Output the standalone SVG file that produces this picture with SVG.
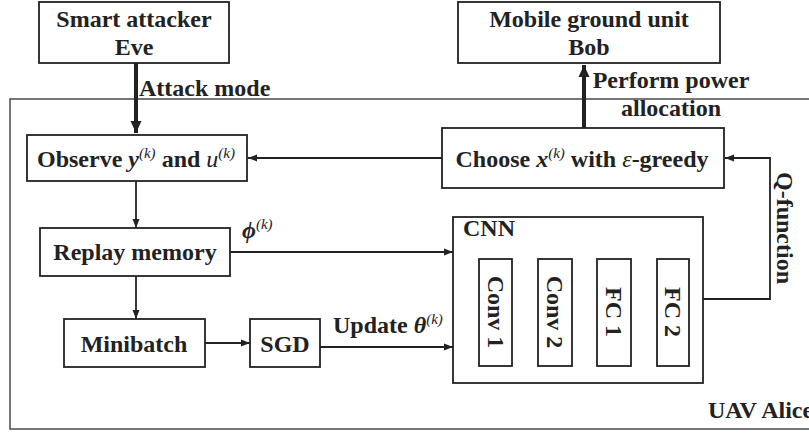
<svg xmlns="http://www.w3.org/2000/svg" width="809" height="433" viewBox="0 0 809 433">
  <style>
    .box { fill: #fff; stroke: #222; stroke-width: 1.8; }
    .frame { fill: none; stroke: #555; stroke-width: 1.6; }
    .t { font-family: "Liberation Serif", "Times New Roman", serif; font-weight: bold; font-size: 24px; fill: #222; }
    .mid { text-anchor: middle; }
    .it { font-style: italic; }
    .rg { font-weight: normal; }
    .sup { font-style: italic; font-weight: normal; font-size: 15px; }
    .ln { fill: none; stroke: #222; stroke-width: 1.8; }
    .thick { fill: none; stroke: #222; stroke-width: 4; }
  </style>
  <defs>
    <marker id="ah" markerUnits="userSpaceOnUse" markerWidth="10" markerHeight="10" refX="9" refY="5" orient="auto">
      <path d="M0,1.5 L9,5 L0,8.5 Z" fill="#222"/>
    </marker>
    <marker id="ahThick" markerUnits="userSpaceOnUse" markerWidth="14" markerHeight="14" refX="12" refY="7" orient="auto">
      <path d="M0,1.5 L12,7 L0,12.5 Z" fill="#222"/>
    </marker>
  </defs>

  <!-- UAV Alice frame -->
  <g id="uav-alice">
    <rect class="frame" x="10" y="99" width="806" height="330"/>
    <text class="t" x="708" y="418">UAV Alice</text>
  </g>

  <!-- connectors -->
  <g id="connectors">
    <path class="thick" d="M136 63 V133" marker-end="url(#ahThick)"/>
    <path class="thick" d="M584 128 V65" marker-end="url(#ahThick)"/>
    <path class="ln" d="M442 158 H248" marker-end="url(#ah)"/>
    <path class="ln" d="M136 181 V228" marker-end="url(#ah)"/>
    <path class="ln" d="M136 276 V319" marker-end="url(#ah)"/>
    <path class="ln" d="M205 343 H250" marker-end="url(#ah)"/>
    <path class="ln" d="M320 347 H453" marker-end="url(#ah)"/>
    <path class="ln" d="M230 252 H453" marker-end="url(#ah)"/>
    <path class="ln" d="M703 299 H770 V158 H725" marker-end="url(#ah)"/>
    <path class="ln" d="M512 312 H538" marker-end="url(#ah)"/>
    <path class="ln" d="M572 312 H597" marker-end="url(#ah)"/>
    <path class="ln" d="M631 312 H657" marker-end="url(#ah)"/>

    <text class="t" x="139" y="96">Attack mode</text>
    <text class="t mid" x="671" y="88">Perform power</text>
    <text class="t mid" x="671" y="116">allocation</text>
    <text class="t" x="242" y="238"><tspan class="it">ϕ</tspan><tspan class="sup" dy="-9">(k)</tspan></text>
    <text class="t" x="333" y="333">Update <tspan class="it">θ</tspan><tspan class="sup" dy="-9">(k)</tspan></text>
    <text class="t mid" transform="translate(777 228) rotate(90)" x="0" y="0">Q-function</text>
  </g>

  <g id="eve">
    <rect class="box" x="39" y="2" width="190" height="61"/>
    <text class="t mid" x="134" y="27">Smart attacker</text>
    <text class="t mid" x="134" y="55">Eve</text>
  </g>

  <g id="bob">
    <rect class="box" x="458" y="2" width="262" height="61"/>
    <text class="t mid" x="589" y="27">Mobile ground unit</text>
    <text class="t mid" x="589" y="55">Bob</text>
  </g>

  <g id="observe">
    <rect class="box" x="27" y="135" width="220" height="46"/>
    <text class="t mid" x="136" y="167">Observe <tspan class="it">y</tspan><tspan class="sup" dy="-9">(k)</tspan><tspan dy="9"> and </tspan><tspan class="it rg">u</tspan><tspan class="sup" dy="-9">(k)</tspan></text>
  </g>

  <g id="choose">
    <rect class="box" x="442" y="128" width="282" height="60"/>
    <text class="t mid" x="582" y="167">Choose <tspan class="it">x</tspan><tspan class="sup" dy="-9">(k)</tspan><tspan dy="9"> with </tspan><tspan class="it rg">ε</tspan>-greedy</text>
  </g>

  <g id="replay-memory">
    <rect class="box" x="40" y="228" width="190" height="48"/>
    <text class="t mid" x="135" y="260">Replay memory</text>
  </g>

  <g id="minibatch">
    <rect class="box" x="64" y="319" width="141" height="48"/>
    <text class="t mid" x="134" y="352">Minibatch</text>
  </g>

  <g id="sgd">
    <rect class="box" x="250" y="319" width="70" height="48"/>
    <text class="t mid" x="285" y="352">SGD</text>
  </g>

  <g id="cnn">
    <rect class="box" x="453" y="217" width="250" height="166"/>
    <text class="t" x="463" y="236">CNN</text>
  </g>

  <g id="conv1">
    <rect class="box" x="479" y="259" width="33" height="107"/>
    <text class="t mid" transform="translate(488 312) rotate(90)" x="0" y="0">Conv 1</text>
  </g>
  <g id="conv2">
    <rect class="box" x="538" y="259" width="34" height="107"/>
    <text class="t mid" transform="translate(547 312) rotate(90)" x="0" y="0">Conv 2</text>
  </g>
  <g id="fc1">
    <rect class="box" x="597" y="259" width="34" height="107"/>
    <text class="t mid" transform="translate(606 312) rotate(90)" x="0" y="0">FC 1</text>
  </g>
  <g id="fc2">
    <rect class="box" x="657" y="259" width="32" height="107"/>
    <text class="t mid" transform="translate(665 312) rotate(90)" x="0" y="0">FC 2</text>
  </g>
</svg>
